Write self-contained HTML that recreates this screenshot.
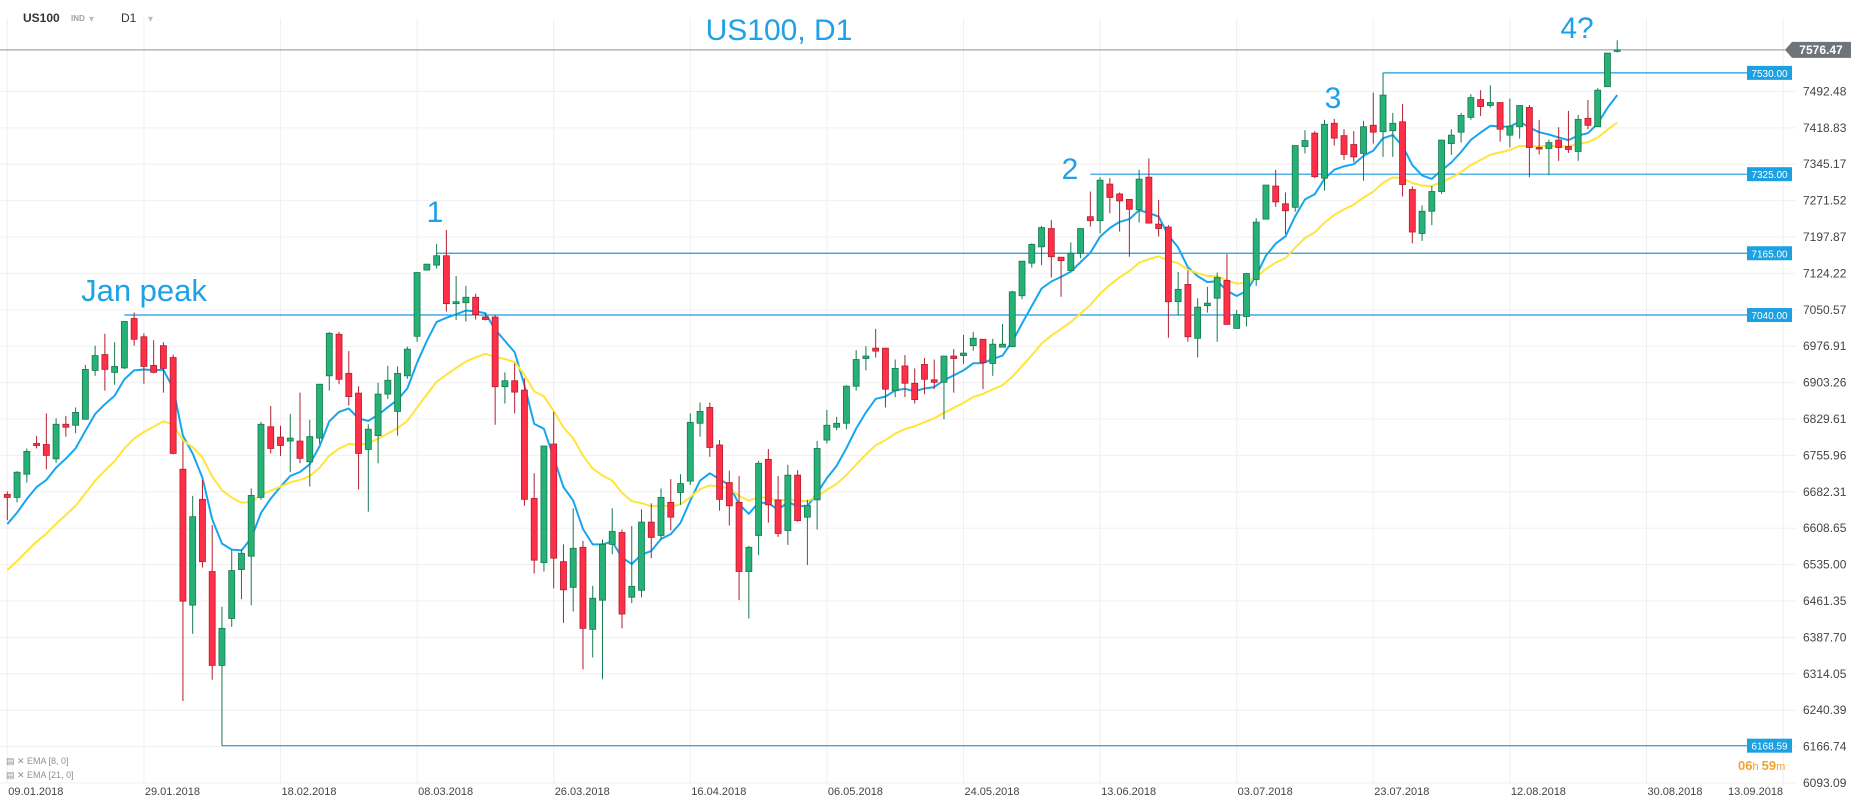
<!DOCTYPE html>
<html><head><meta charset="utf-8">
<style>
html,body{margin:0;padding:0;background:#fff;}
svg{display:block;font-family:"Liberation Sans",sans-serif;}
</style></head>
<body>
<svg id="chart" width="1866" height="811" viewBox="0 0 1866 811" xmlns="http://www.w3.org/2000/svg">
  <g id="grid"></g>
  <g id="hlines"></g>
  <g id="ema"></g>
  <g id="candles"></g>
  <g id="axes"></g>
  <g>
    <text x="23" y="22" font-size="12" font-weight="bold" fill="#333">US100</text>
    <text x="71" y="21" font-size="8" font-weight="bold" fill="#9aa3ab">IND</text>
    <text x="89" y="22" font-size="10" fill="#b5bcc2">▾</text>
    <text x="121" y="22" font-size="12" fill="#333">D1</text>
    <text x="148" y="22" font-size="10" fill="#b5bcc2">▾</text>
  </g>
  <text x="779" y="40" font-size="30" fill="#1ea1e6" text-anchor="middle">US100, D1</text>
  <text x="144" y="301" font-size="31" fill="#1ea1e6" text-anchor="middle">Jan peak</text>
  <text x="435" y="222" font-size="30" fill="#1ea1e6" text-anchor="middle">1</text>
  <text x="1070" y="179" font-size="30" fill="#1ea1e6" text-anchor="middle">2</text>
  <text x="1333" y="108" font-size="30" fill="#1ea1e6" text-anchor="middle">3</text>
  <text x="1577" y="38" font-size="30" fill="#1ea1e6" text-anchor="middle">4?</text>
  <g>
    <text x="6" y="764" font-size="9" fill="#8a9299">▤ ✕ EMA [8, 0]</text>
    <text x="6" y="778" font-size="9" fill="#8a9299">▤ ✕ EMA [21, 0]</text>
  </g>
  <text x="1738" y="770" font-size="13" fill="#f0a32d"><tspan font-weight="bold">06</tspan><tspan font-size="11">h </tspan><tspan font-weight="bold">59</tspan><tspan font-size="11">m</tspan></text>
</svg>
<script>
const opens = [6677,6671,6718,6780,6778,6749,6819,6817,6829,6928,6960,6924,6933,7033,6996,6938,6978,6954,6728,6453,6667,6521,6331,6426,6525,6552,6671,6814,6793,6785,6785,6743,6791,6917,7001,6922,6882,6768,6796,6880,6845,6917,6997,7131,7141,7160,7063,7065,7076,7036,7036,6895,6907,6888,6669,6539,6779,6541,6489,6570,6404,6463,6576,6600,6469,6483,6621,6594,6661,6681,6704,6821,6853,6777,6701,6661,6521,6594,6748,6666,6604,6716,6631,6666,6787,6813,6821,6896,6952,6973,6973,6887,6937,6902,6940,6909,6904,6957,6958,6978,6991,6942,6975,6976,7079,7145,7178,7215,7157,7130,7165,7239,7231,7305,7285,7274,7253,7319,7224,7218,7067,7102,6993,7059,7074,7110,7013,7037,7112,7234,7301,7265,7258,7381,7408,7317,7428,7403,7385,7367,7424,7411,7413,7431,7294,7205,7250,7290,7387,7410,7440,7476,7464,7470,7404,7421,7460,7379,7377,7394,7381,7371,7438,7421,7502,7574];
const highs = [6683,6724,6770,6795,6841,6831,6836,6853,6939,6978,7002,6985,7027,7045,7003,6989,6985,6960,6784,6674,6706,6615,6450,6564,6566,6689,6824,6856,6816,6840,6883,6828,6900,7006,7006,6967,6896,6819,6903,6937,6936,6976,7126,7143,7184,7212,7119,7099,7083,7043,7040,6924,6942,6912,6720,6775,6844,6576,6649,6583,6492,6586,6649,6606,6613,6647,6659,6689,6708,6718,6841,6863,6863,6787,6725,6714,6573,6745,6769,6714,6737,6726,6666,6785,6848,6834,6898,6969,6977,7012,6973,6950,6959,6932,6953,6950,6957,6971,7000,7006,6991,6992,7022,7089,7149,7185,7220,7232,7157,7187,7215,7290,7319,7317,7288,7274,7334,7357,7273,7222,7127,7130,7074,7097,7126,7163,7050,7124,7236,7303,7334,7288,7383,7414,7412,7435,7437,7416,7412,7433,7490,7530,7449,7467,7300,7262,7301,7394,7416,7449,7487,7495,7505,7470,7478,7464,7465,7435,7395,7420,7453,7445,7475,7499,7570,7596];
const lows = [6625,6661,6701,6770,6728,6741,6794,6801,6829,6917,6887,6899,6931,6978,6901,6922,6883,6758,6259,6395,6529,6302,6168.59,6409,6465,6453,6666,6760,6755,6722,6740,6693,6780,6887,6900,6857,6687,6642,6740,6870,6796,6911,6986,7131,7134,7047,7030,7027,7031,7029,6818,6861,6841,6654,6517,6521,6487,6417,6440,6323,6347,6303,6556,6406,6457,6469,6548,6585,6604,6656,6696,6794,6753,6644,6614,6463,6426,6554,6620,6591,6575,6622,6534,6606,6780,6807,6809,6887,6928,6954,6853,6874,6874,6861,6880,6890,6829,6883,6941,6968,6890,6917,6975,6976,7072,7136,7141,7116,7077,7130,7155,7219,7205,7246,7209,7158,7227,7226,7199,6994,7039,6986,6954,7045,6986,7021,7013,7017,7099,7234,7259,7204,7249,7367,7317,7292,7383,7354,7349,7312,7387,7360,7360,7280,7185,7190,7222,7285,7364,7389,7435,7443,7460,7391,7379,7397,7319,7365,7323,7352,7368,7352,7416,7421,7502,7571];
const closes = [6671,6722,6764,6776,6756,6819,6813,6843,6930,6958,6930,6936,7027,6991,6936,6924,6932,6760,6461,6632,6541,6331,6406,6523,6558,6675,6819,6770,6776,6791,6750,6794,6900,7003,6910,6875,6760,6809,6880,6908,6922,6971,7126,7143,7160,7063,7067,7076,7041,7031,6895,6907,6884,6667,6544,6775,6548,6484,6568,6406,6467,6576,6602,6435,6491,6621,6590,6671,6631,6699,6823,6845,6772,6667,6654,6521,6570,6740,6656,6598,6716,6624,6655,6770,6817,6821,6896,6950,6957,6967,6890,6932,6902,6869,6910,6904,6957,6952,6963,6993,6944,6981,6981,7087,7149,7183,7217,7158,7150,7165,7215,7231,7313,7278,7271,7254,7315,7226,7215,7067,7092,6996,7056,7064,7116,7021,7041,7124,7228,7303,7269,7251,7383,7393,7320,7426,7398,7365,7360,7421,7410,7485,7428,7304,7208,7250,7290,7394,7404,7444,7480,7462,7470,7416,7422,7464,7379,7377,7389,7379,7375,7436,7424,7495,7570,7576.47];
const emaFastSeed = 6617;
const emaSlowSeed = 6524;
const yTicks = [7492.48,7418.83,7345.17,7271.52,7197.87,7124.22,7050.57,6976.91,6903.26,6829.61,6755.96,6682.31,6608.65,6535.00,6461.35,6387.70,6314.05,6240.39,6166.74,6093.09];
const dateLabels = ["09.01.2018","29.01.2018","18.02.2018","08.03.2018","26.03.2018","16.04.2018","06.05.2018","24.05.2018","13.06.2018","03.07.2018","23.07.2018","12.08.2018","30.08.2018","13.09.2018"];
const levelValues = [7530.00,7325.00,7165.00,7040.00,6168.59];
const levelStartIdx = [141,111,44,12,22];
const lastPrice = 7576.47;

const NS = "http://www.w3.org/2000/svg";
function xOf(i){ return 7.3 + 9.757*i; }
function yOf(p){ return 783 - (p-6093.09)*0.4942; }
function mk(tag, attrs, parent){
  const e = document.createElementNS(NS, tag);
  for (const k in attrs) e.setAttribute(k, attrs[k]);
  parent.appendChild(e);
  return e;
}
const grid = document.getElementById('grid');
const axes = document.getElementById('axes');
const hl = document.getElementById('hlines');
const emaG = document.getElementById('ema');
const cg = document.getElementById('candles');
const PLOT_R = 1796;

// horizontal grid + y labels
yTicks.forEach(v => {
  const y = yOf(v);
  const l = mk('line', {x1:0, x2:PLOT_R, y1:y, y2:y, stroke:'#f0f0f0', 'stroke-width':1}, grid);
  
  
  const t = mk('text', {x:1803, y:y+4, 'font-size':12, fill:'#444'}, axes);
  t.textContent = v.toFixed(2);
  
  
});
// vertical grid + dates
dateLabels.forEach((d, k) => {
  const x = xOf(k*14);
  const l = mk('line', {x1:x, x2:x, y1:18, y2:783, stroke:'#f0f0f0', 'stroke-width':1}, grid);
  
  
  const last = k === dateLabels.length-1;
  const t = mk('text', {x: last ? x : x+1, y:795, 'font-size':11, fill:'#444', 'text-anchor': last ? 'end' : 'start'}, axes);
  t.textContent = d;
  
  
});

// current price line
const cpY = yOf(lastPrice);
const cpl = mk('line', {x1:0, x2:1786, y1:cpY, y2:cpY, stroke:'#8c9196', 'stroke-width':1}, hl);


const cpb = mk('path', {d:`M1785 ${cpY} L1792 ${cpY-8} L1851 ${cpY-8} L1851 ${cpY+8} L1792 ${cpY+8} Z`, fill:'#6e7479'}, axes);


const cpt = mk('text', {x:1821, y:cpY+4, 'font-size':12, 'font-weight':'bold', fill:'#fff', 'text-anchor':'middle'}, axes);
cpt.textContent = lastPrice.toFixed(2);



// level lines
levelValues.forEach((v, k) => {
  const y = yOf(v);
  const l = mk('line', {x1:xOf(levelStartIdx[k]), x2:1747, y1:y, y2:y, stroke:'#1a9be3', 'stroke-width':1.2}, hl);
  
  
  const r = mk('rect', {x:1747, y:y-7, width:45, height:14, fill:'#1ba0e2'}, hl);
  
  
  const t = mk('text', {x:1769.5, y:y+4, 'font-size':10, fill:'#fff', 'text-anchor':'middle'}, hl);
  t.textContent = v.toFixed(2);
  
  
});

// EMAs
function ema(seed, n){
  const a = 2/(n+1); const out = []; let e = seed;
  closes.forEach((c, i) => { if (i>0) e = e + a*(c-e); out.push(e); });
  return out;
}
[[ema(emaFastSeed,8),'#17a6ee','ema-8-line'],[ema(emaSlowSeed,21),'#ffe53a','ema-21-line']].forEach(([vals,col,nm]) => {
  const d = vals.map((v,i)=>(i?'L':'M')+xOf(i).toFixed(1)+' '+yOf(v).toFixed(1)).join(' ');
  const p = mk('path', {d:d, fill:'none', stroke:col, 'stroke-width':2, 'stroke-linejoin':'round'}, emaG);
  
  
});

// candles
closes.forEach((c, i) => {
  const o = opens[i], h = highs[i], l = lows[i];
  const up = c >= o;
  const x = xOf(i);
  const fill = up ? '#26b176' : '#ff2f48';
  const stroke = up ? '#17784e' : '#b01e30';
  const g = mk('g', {}, cg);
  
  
  mk('line', {x1:x, x2:x, y1:yOf(h), y2:yOf(l), stroke:stroke, 'stroke-width':1}, g);
  const top = yOf(Math.max(o,c)), bot = yOf(Math.min(o,c));
  mk('rect', {x:x-3, y:top, width:6, height:Math.max(bot-top,1.5), fill:fill, stroke:stroke, 'stroke-width':0.8}, g);
});
</script>
</body></html>
